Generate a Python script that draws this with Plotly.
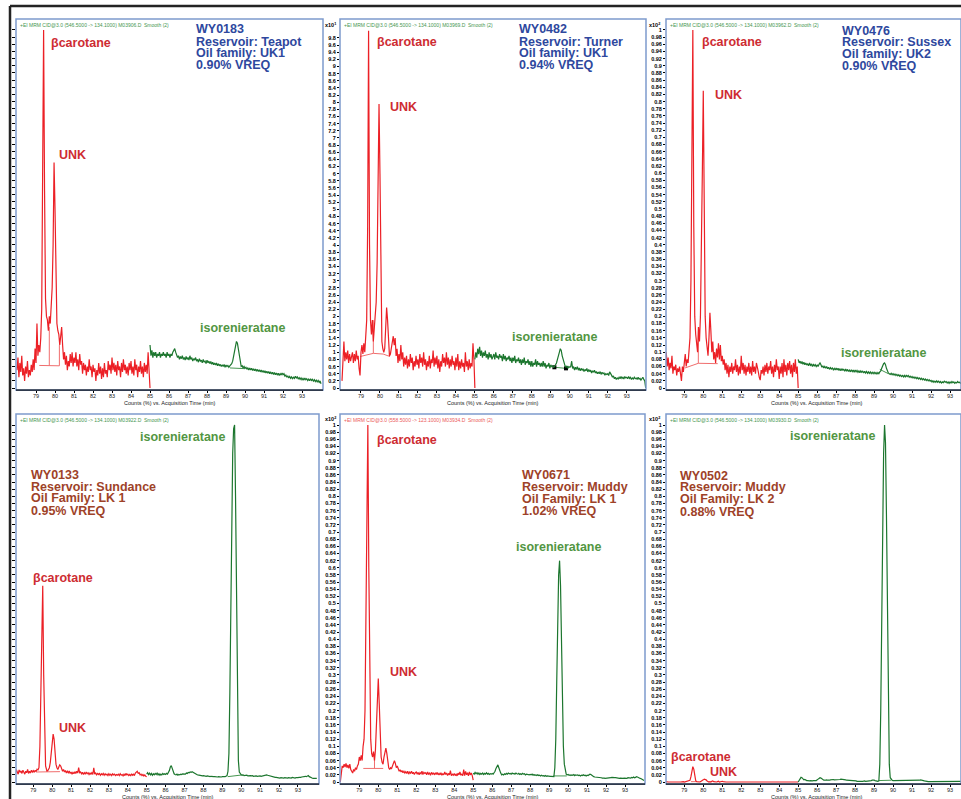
import numpy as np
import plotly.graph_objects as go

W, H = 961, 799
FONT = "Liberation Sans, Arial, sans-serif"

# ---------------- DATA ----------------
# red traces sampled 78.00 .. 85.00 min, green traces 85.00 .. 94.00 min (0.05 min steps)
RED_START, RED_END = 78.0, 85.0
GRN_START, GRN_END = 85.0, 94.0

wy0183_red = [
    0.05, 0.085, 0.03, 0.07, 0.045, 0.09, 0.035, 0.055, 0.02, 0.06,
    0.04, 0.075, 0.03, 0.05, 0.035, 0.065, 0.045, 0.08, 0.05, 0.11,
    0.07, 0.18, 0.09, 0.12, 0.10, 0.14, 0.22, 0.6, 1.0, 0.55,
    0.25, 0.2, 0.19, 0.16, 0.20, 0.18, 0.22, 0.28, 0.4, 0.63,
    0.5, 0.25, 0.18, 0.16, 0.15, 0.12, 0.16, 0.17, 0.12, 0.08,
    0.10, 0.065, 0.09, 0.05, 0.075, 0.06, 0.095, 0.07, 0.10, 0.06,
    0.085, 0.07, 0.10, 0.06, 0.08, 0.05, 0.095, 0.065, 0.075, 0.04,
    0.07, 0.05, 0.065, 0.035, 0.06, 0.045, 0.08, 0.05, 0.06, 0.03,
    0.065, 0.045, 0.055, 0.02, 0.05, 0.035, 0.07, 0.04, 0.06, 0.025,
    0.055, 0.03, 0.07, 0.04, 0.05, 0.03, 0.075, 0.05, 0.065, 0.04,
    0.085, 0.05, 0.07, 0.045, 0.065, 0.035, 0.075, 0.05, 0.06, 0.03,
    0.07, 0.045, 0.08, 0.05, 0.065, 0.04, 0.06, 0.035, 0.07, 0.05,
    0.075, 0.04, 0.06, 0.035, 0.08, 0.05, 0.065, 0.03, 0.06, 0.045,
    0.075, 0.04, 0.06, 0.03, 0.07, 0.045, 0.065, 0.04, 0.10, 0.06,
    0.0]
wy0183_green = [
    0.12, 0.09, 0.105, 0.085, 0.10, 0.09, 0.10, 0.085, 0.095, 0.09,
    0.10, 0.085, 0.095, 0.09, 0.10, 0.09, 0.095, 0.085, 0.10, 0.09,
    0.095, 0.085, 0.095, 0.09, 0.10, 0.105, 0.11, 0.10, 0.09, 0.085,
    0.09, 0.08, 0.088, 0.082, 0.09, 0.08, 0.085, 0.078, 0.088, 0.08,
    0.085, 0.078, 0.09, 0.08, 0.085, 0.075, 0.082, 0.078, 0.085, 0.075,
    0.08, 0.072, 0.082, 0.075, 0.078, 0.07, 0.08, 0.072, 0.075, 0.068,
    0.078, 0.07, 0.075, 0.068, 0.074, 0.066, 0.072, 0.065, 0.07, 0.064,
    0.07, 0.062, 0.068, 0.062, 0.066, 0.06, 0.065, 0.06, 0.066, 0.058,
    0.064, 0.06, 0.063, 0.058, 0.062, 0.064, 0.068, 0.075, 0.09, 0.11,
    0.125, 0.13, 0.125, 0.105, 0.085, 0.07, 0.06, 0.062, 0.056, 0.06,
    0.055, 0.058, 0.052, 0.057, 0.05, 0.056, 0.05, 0.055, 0.049, 0.054,
    0.048, 0.053, 0.047, 0.052, 0.046, 0.051, 0.045, 0.05, 0.044, 0.049,
    0.043, 0.048, 0.042, 0.047, 0.041, 0.046, 0.04, 0.045, 0.039, 0.044,
    0.038, 0.043, 0.037, 0.042, 0.036, 0.041, 0.035, 0.04, 0.036, 0.042,
    0.037, 0.04, 0.033, 0.036, 0.03, 0.034, 0.028, 0.032, 0.027, 0.031,
    0.026, 0.03, 0.027, 0.033, 0.028, 0.031, 0.025, 0.029, 0.024, 0.028,
    0.023, 0.027, 0.022, 0.028, 0.023, 0.026, 0.021, 0.025, 0.02, 0.026,
    0.021, 0.024, 0.019, 0.023, 0.018, 0.022, 0.017, 0.021, 0.016, 0.02,
    0.012]

wy0482_red = [
    0.2, 0.6, 1.3, 0.75, 1.0, 0.8, 1.05, 0.7, 0.95, 0.75,
    0.9, 1.0, 0.7, 0.95, 0.75, 1.05, 0.8, 0.9, 0.55, 0.35,
    1.0, 1.2, 0.95, 1.25, 1.0, 1.35, 1.9, 4.5, 10.0, 4.0,
    1.9, 1.5, 1.9, 1.3, 1.7, 1.9, 2.4, 3.5, 6.0, 7.95,
    6.0, 2.8, 1.3, 1.1, 1.0, 1.1, 1.8, 2.25, 1.9, 1.2,
    0.9, 0.95, 1.1, 1.3, 1.45, 1.2, 1.4, 0.9, 1.1, 0.7,
    0.95, 0.75, 1.2, 0.8, 1.0, 0.6, 0.85, 0.65, 0.9, 0.55,
    0.8, 0.6, 0.95, 0.7, 0.85, 0.5, 0.75, 0.6, 0.9, 0.65,
    0.8, 0.55, 0.95, 0.7, 0.85, 0.6, 1.0, 0.65, 0.8, 0.5,
    0.75, 0.6, 0.9, 0.55, 0.8, 0.7, 1.05, 0.6, 0.85, 0.65,
    0.9, 0.55, 0.8, 0.45, 0.75, 0.6, 0.95, 0.7, 0.85, 0.6,
    1.0, 0.65, 0.85, 0.55, 0.8, 0.6, 0.9, 0.65, 0.75, 0.5,
    0.85, 0.6, 0.95, 0.5, 0.75, 0.55, 0.8, 0.6, 0.7, 0.45,
    1.0, 0.6, 0.75, 0.5, 0.8, 0.55, 0.7, 0.6, 1.25, 0.8,
    0.0]
wy0482_green = [
    0.8, 1.0, 0.85, 1.1, 0.95, 1.15, 0.9, 1.05, 0.85, 1.0,
    0.9, 1.05, 0.85, 0.95, 0.8, 1.0, 0.85, 0.95, 0.8, 0.9,
    0.95, 0.8, 1.0, 0.85, 0.9, 0.8, 0.95, 0.85, 0.9, 0.75,
    0.95, 0.8, 0.9, 0.75, 0.85, 0.8, 0.9, 0.75, 0.85, 0.7,
    0.85, 0.75, 0.9, 0.7, 0.8, 0.75, 0.85, 0.7, 0.8, 0.65,
    0.8, 0.7, 0.85, 0.65, 0.75, 0.7, 0.8, 0.65, 0.75, 0.6,
    0.75, 0.6, 0.7, 0.65, 0.8, 0.6, 0.75, 0.65, 0.7, 0.6,
    0.7, 0.6, 0.75, 0.6, 0.7, 0.55, 0.65, 0.6, 0.7, 0.55,
    0.65, 0.6, 0.62, 0.58, 0.6, 0.65, 0.7, 0.8, 0.95, 1.0,
    1.1, 1.05, 0.9, 0.78, 0.68, 0.62, 0.58, 0.62, 0.55, 0.6,
    0.58, 0.6, 0.75, 0.55, 0.6, 0.5, 0.58, 0.52, 0.6, 0.5,
    0.56, 0.48, 0.55, 0.5, 0.54, 0.46, 0.52, 0.48, 0.55, 0.45,
    0.52, 0.46, 0.5, 0.42, 0.48, 0.44, 0.5, 0.42, 0.46, 0.4,
    0.45, 0.4, 0.46, 0.38, 0.44, 0.4, 0.42, 0.36, 0.4, 0.38,
    0.4, 0.35, 0.45, 0.38, 0.36, 0.3, 0.34, 0.26, 0.3, 0.24,
    0.28, 0.25, 0.3, 0.26, 0.32, 0.27, 0.3, 0.25, 0.32, 0.28,
    0.3, 0.26, 0.32, 0.27, 0.3, 0.24, 0.28, 0.25, 0.3, 0.26,
    0.28, 0.24, 0.3, 0.25, 0.27, 0.22, 0.26, 0.3, 0.24, 0.2,
    0.0]

wy0476_red = [
    0.05, 0.1, 0.06, 0.085, 0.05, 0.07, 0.055, 0.09, 0.04, 0.06,
    0.05, 0.065, 0.035, 0.055, 0.045, 0.06, 0.04, 0.02, 0.06, 0.045,
    0.07, 0.095, 0.06, 0.08, 0.07, 0.1, 0.14, 0.3, 0.6, 1.0,
    0.45, 0.2, 0.15, 0.13, 0.1, 0.17, 0.13, 0.2, 0.35, 0.6,
    0.83, 0.45, 0.2, 0.14, 0.12, 0.09, 0.14, 0.21, 0.16, 0.1,
    0.13, 0.08, 0.1, 0.07, 0.11, 0.085, 0.125, 0.08, 0.12, 0.075,
    0.09, 0.065, 0.08, 0.05, 0.07, 0.04, 0.065, 0.03, 0.06, 0.045,
    0.07, 0.04, 0.06, 0.05, 0.08, 0.045, 0.065, 0.035, 0.06, 0.04,
    0.09, 0.05, 0.07, 0.04, 0.065, 0.035, 0.06, 0.045, 0.07, 0.04,
    0.06, 0.035, 0.075, 0.045, 0.06, 0.04, 0.07, 0.05, 0.045, 0.03,
    0.022, 0.05, 0.04, 0.06, 0.035, 0.065, 0.045, 0.07, 0.04, 0.06,
    0.05, 0.075, 0.04, 0.06, 0.03, 0.065, 0.045, 0.08, 0.05, 0.06,
    0.025, 0.06, 0.04, 0.07, 0.03, 0.08, 0.045, 0.065, 0.035, 0.07,
    0.05, 0.075, 0.04, 0.065, 0.03, 0.07, 0.045, 0.08, 0.04, 0.06,
    0.0]
wy0476_green = [
    0.08, 0.07, 0.075, 0.068, 0.074, 0.066, 0.072, 0.065, 0.07, 0.064,
    0.068, 0.062, 0.07, 0.063, 0.066, 0.06, 0.067, 0.061, 0.065, 0.06,
    0.064, 0.06, 0.066, 0.07, 0.065, 0.058, 0.062, 0.056, 0.06, 0.055,
    0.06, 0.054, 0.058, 0.052, 0.057, 0.053, 0.056, 0.051, 0.055, 0.05,
    0.056, 0.05, 0.055, 0.049, 0.053, 0.048, 0.054, 0.05, 0.052, 0.047,
    0.053, 0.047, 0.052, 0.046, 0.05, 0.045, 0.051, 0.046, 0.05, 0.044,
    0.05, 0.045, 0.049, 0.044, 0.048, 0.043, 0.048, 0.044, 0.047, 0.042,
    0.047, 0.042, 0.046, 0.041, 0.045, 0.041, 0.045, 0.04, 0.044, 0.04,
    0.044, 0.04, 0.043, 0.039, 0.043, 0.04, 0.045, 0.048, 0.055, 0.063,
    0.068, 0.07, 0.065, 0.055, 0.046, 0.042, 0.04, 0.038, 0.041, 0.037,
    0.04, 0.036, 0.039, 0.035, 0.038, 0.034, 0.037, 0.033, 0.036, 0.032,
    0.035, 0.031, 0.035, 0.03, 0.036, 0.032, 0.035, 0.03, 0.033, 0.029,
    0.032, 0.028, 0.031, 0.027, 0.03, 0.026, 0.029, 0.025, 0.028, 0.024,
    0.027, 0.023, 0.026, 0.022, 0.025, 0.021, 0.024, 0.02, 0.023, 0.019,
    0.021, 0.017, 0.02, 0.016, 0.019, 0.016, 0.02, 0.016, 0.019, 0.015,
    0.018, 0.014, 0.017, 0.015, 0.019, 0.016, 0.018, 0.014, 0.017, 0.013,
    0.017, 0.014, 0.018, 0.015, 0.017, 0.013, 0.016, 0.014, 0.018, 0.015,
    0.016, 0.013, 0.017, 0.014, 0.016, 0.013, 0.015, 0.012, 0.014, 0.012,
    0.012]

wy0133_red = [
    0.03, 0.025, 0.035, 0.028, 0.022, 0.034, 0.027, 0.031, 0.024, 0.033,
    0.028, 0.022, 0.03, 0.026, 0.035, 0.024, 0.03, 0.025, 0.033, 0.028,
    0.032, 0.027, 0.033, 0.029, 0.036, 0.034, 0.04, 0.1, 0.25, 0.45,
    0.55, 0.3, 0.1, 0.045, 0.035, 0.03, 0.035, 0.04, 0.055, 0.08,
    0.11, 0.134, 0.12, 0.08, 0.05, 0.04, 0.035, 0.042, 0.048, 0.045,
    0.035, 0.03, 0.035, 0.028, 0.032, 0.025, 0.03, 0.026, 0.031, 0.024,
    0.028, 0.022, 0.027, 0.023, 0.029, 0.024, 0.03, 0.025, 0.04, 0.026,
    0.028, 0.023, 0.027, 0.021, 0.026, 0.022, 0.028, 0.023, 0.026, 0.021,
    0.025, 0.022, 0.026, 0.021, 0.04, 0.022, 0.025, 0.02, 0.024, 0.021,
    0.024, 0.019, 0.023, 0.02, 0.024, 0.019, 0.023, 0.02, 0.022, 0.018,
    0.023, 0.019, 0.022, 0.018, 0.023, 0.02, 0.022, 0.018, 0.021, 0.019,
    0.022, 0.018, 0.023, 0.019, 0.021, 0.017, 0.022, 0.018, 0.024, 0.02,
    0.022, 0.018, 0.021, 0.017, 0.023, 0.019, 0.022, 0.018, 0.025, 0.028,
    0.03, 0.024, 0.026, 0.02, 0.022, 0.018, 0.021, 0.017, 0.02, 0.016,
    0.015]
wy0133_green = [
    0.022, 0.026, 0.021, 0.025, 0.02, 0.024, 0.019, 0.023, 0.02, 0.024,
    0.021, 0.025, 0.02, 0.023, 0.019, 0.022, 0.02, 0.024, 0.021, 0.023,
    0.021, 0.024, 0.022, 0.026, 0.032, 0.042, 0.046, 0.038, 0.028, 0.023,
    0.021, 0.02, 0.022, 0.019, 0.021, 0.02, 0.022, 0.021, 0.023, 0.022,
    0.023, 0.022, 0.025, 0.024, 0.027, 0.026, 0.028, 0.027, 0.029, 0.027,
    0.026, 0.024, 0.023, 0.021, 0.02, 0.019, 0.019, 0.018, 0.018, 0.017,
    0.018, 0.017, 0.017, 0.016, 0.017, 0.016, 0.016, 0.015, 0.016, 0.015,
    0.016, 0.015, 0.015, 0.014, 0.015, 0.014, 0.015, 0.014, 0.015, 0.014,
    0.015, 0.014, 0.015, 0.015, 0.016, 0.018, 0.03, 0.08, 0.25, 0.5,
    0.75, 0.92, 0.99, 1.0, 0.8, 0.5, 0.2, 0.06, 0.028, 0.022,
    0.02, 0.019, 0.02, 0.018, 0.019, 0.018, 0.019, 0.017, 0.018, 0.017,
    0.018, 0.017, 0.018, 0.016, 0.017, 0.016, 0.017, 0.016, 0.017, 0.016,
    0.017, 0.016, 0.017, 0.016, 0.017, 0.018, 0.019, 0.02, 0.019, 0.018,
    0.018, 0.017, 0.016, 0.015, 0.015, 0.014, 0.013, 0.013, 0.012, 0.012,
    0.012, 0.011, 0.012, 0.011, 0.012, 0.011, 0.012, 0.011, 0.012, 0.011,
    0.012, 0.011, 0.012, 0.011, 0.013, 0.012, 0.012, 0.011, 0.012, 0.011,
    0.012, 0.013, 0.012, 0.013, 0.014, 0.015, 0.016, 0.017, 0.016, 0.015,
    0.017, 0.018, 0.015, 0.013, 0.012, 0.011, 0.01, 0.011, 0.01, 0.01,
    0.01]

wy0671_red = [
    0.0, 0.03, 0.045, 0.04, 0.05, 0.042, 0.052, 0.04, 0.048, 0.038,
    0.05, 0.035, 0.03, 0.025, 0.035, 0.03, 0.04, 0.035, 0.045, 0.05,
    0.07, 0.06, 0.075, 0.06, 0.1, 0.12, 0.2, 0.5, 0.85, 1.0,
    0.6, 0.25, 0.12, 0.08, 0.07, 0.085, 0.06, 0.09, 0.15, 0.25,
    0.29, 0.22, 0.12, 0.07, 0.055, 0.05, 0.07, 0.09, 0.095, 0.08,
    0.055, 0.04, 0.035, 0.04, 0.038, 0.045, 0.05, 0.06, 0.052, 0.04,
    0.045, 0.035, 0.03, 0.034, 0.028, 0.032, 0.026, 0.03, 0.025, 0.029,
    0.024, 0.03, 0.022, 0.028, 0.025, 0.03, 0.023, 0.027, 0.021, 0.026,
    0.028, 0.022, 0.027, 0.02, 0.026, 0.023, 0.03, 0.021, 0.027, 0.024,
    0.026, 0.02, 0.028, 0.022, 0.025, 0.019, 0.027, 0.022, 0.026, 0.02,
    0.025, 0.021, 0.027, 0.02, 0.024, 0.02, 0.026, 0.019, 0.023, 0.02,
    0.028, 0.021, 0.025, 0.018, 0.024, 0.02, 0.032, 0.018, 0.022, 0.019,
    0.024, 0.018, 0.022, 0.017, 0.025, 0.02, 0.028, 0.019, 0.022, 0.018,
    0.035, 0.018, 0.03, 0.02, 0.026, 0.017, 0.028, 0.02, 0.025, 0.018,
    0.005]
wy0671_green = [
    0.025, 0.022, 0.027, 0.023, 0.026, 0.022, 0.025, 0.021, 0.024, 0.022,
    0.025, 0.021, 0.024, 0.022, 0.026, 0.022, 0.024, 0.021, 0.023, 0.022,
    0.024, 0.022, 0.026, 0.03, 0.038, 0.045, 0.048, 0.04, 0.03, 0.025,
    0.02, 0.022, 0.02, 0.023, 0.021, 0.024, 0.022, 0.025, 0.023, 0.024,
    0.022, 0.025, 0.023, 0.024, 0.022, 0.025, 0.023, 0.022, 0.024, 0.021,
    0.023, 0.021, 0.024, 0.022, 0.023, 0.02, 0.022, 0.021, 0.022, 0.02,
    0.021, 0.02, 0.022, 0.019, 0.021, 0.019, 0.02, 0.018, 0.02, 0.018,
    0.019, 0.017, 0.019, 0.017, 0.018, 0.016, 0.018, 0.016, 0.017, 0.016,
    0.017, 0.016, 0.016, 0.015, 0.015, 0.015, 0.04, 0.12, 0.28, 0.45,
    0.58, 0.62, 0.55, 0.4, 0.24, 0.1, 0.05, 0.03, 0.022, 0.02,
    0.021, 0.019, 0.02, 0.018, 0.02, 0.019, 0.021, 0.018, 0.02, 0.019,
    0.02, 0.018, 0.019, 0.017, 0.019, 0.018, 0.02, 0.018, 0.019, 0.017,
    0.019, 0.018, 0.02, 0.022, 0.021, 0.018, 0.016, 0.015, 0.014, 0.014,
    0.013, 0.014, 0.013, 0.012, 0.013, 0.012, 0.011, 0.012, 0.011, 0.01,
    0.01, 0.011, 0.01, 0.012, 0.011, 0.012, 0.013, 0.012, 0.013, 0.012,
    0.012, 0.011, 0.012, 0.011, 0.01, 0.011, 0.01, 0.011, 0.01, 0.011,
    0.01, 0.011, 0.01, 0.012, 0.011, 0.012, 0.011, 0.013, 0.012, 0.014,
    0.012, 0.013, 0.015, 0.014, 0.012, 0.011, 0.01, 0.009, 0.008, 0.007,
    0.004]

wy0502_red = [
    0.001, 0.0, 0.001, 0.0, 0.0, 0.001, 0.0, 0.0, 0.001, 0.0,
    0.0, 0.001, 0.0, 0.0, 0.001, 0.0, 0.0, 0.001, 0.0, 0.001,
    0.0, 0.001, 0.0, 0.001, 0.002, 0.003, 0.005, 0.015, 0.032, 0.043,
    0.036, 0.015, 0.004, 0.001, 0.0, 0.001, 0.0, 0.001, 0.002, 0.004,
    0.006, 0.008, 0.008, 0.006, 0.003, 0.001, 0.0, 0.001, 0.0, 0.002,
    0.003, 0.001, 0.0, 0.001, 0.0, 0.001, 0.002, 0.0, 0.001, 0.0,
    0.002, 0.001, 0.0, 0.001, 0.0, 0.0, 0.001, 0.0, 0.0, 0.001,
    0.0, 0.0, 0.001, 0.0, 0.0, 0.0, 0.001, 0.0, 0.0, 0.0,
    0.0, 0.001, 0.0, 0.0, 0.0, 0.001, 0.0, 0.0, 0.0, 0.0,
    0.0, 0.0, 0.001, 0.0, 0.0, 0.0, 0.0, 0.001, 0.0, 0.0,
    0.0, 0.0, 0.0, 0.001, 0.0, 0.0, 0.0, 0.0, 0.0, 0.001,
    0.0, 0.0, 0.0, 0.0, 0.001, 0.0, 0.0, 0.0, 0.0, 0.0,
    0.001, 0.0, 0.0, 0.0, 0.0, 0.0, 0.001, 0.0, 0.0, 0.0,
    0.0, 0.0, 0.001, 0.0, 0.0, 0.0, 0.0, 0.0, 0.001, 0.0,
    0.0]
wy0502_green = [
    0.0, 0.004, 0.01, 0.013, 0.012, 0.008, 0.006, 0.007, 0.005, 0.004,
    0.004, 0.003, 0.003, 0.004, 0.003, 0.003, 0.004, 0.003, 0.004, 0.004,
    0.005, 0.008, 0.01, 0.012, 0.011, 0.008, 0.006, 0.005, 0.005, 0.006,
    0.006, 0.005, 0.004, 0.005, 0.006, 0.007, 0.008, 0.007, 0.006, 0.006,
    0.007, 0.006, 0.005, 0.006, 0.007, 0.008, 0.008, 0.007, 0.007, 0.006,
    0.006, 0.005, 0.005, 0.004, 0.004, 0.005, 0.004, 0.004, 0.003, 0.003,
    0.003, 0.003, 0.002, 0.003, 0.002, 0.002, 0.003, 0.002, 0.002, 0.003,
    0.003, 0.002, 0.002, 0.002, 0.002, 0.003, 0.003, 0.004, 0.005, 0.006,
    0.005, 0.004, 0.003, 0.002, 0.002, 0.003, 0.05, 0.2, 0.45, 0.72,
    0.92, 1.0, 0.95, 0.75, 0.45, 0.18, 0.05, 0.012, 0.006, 0.005,
    0.004, 0.004, 0.005, 0.004, 0.004, 0.003, 0.004, 0.003, 0.003, 0.004,
    0.004, 0.003, 0.004, 0.003, 0.003, 0.003, 0.004, 0.003, 0.003, 0.003,
    0.003, 0.003, 0.004, 0.003, 0.003, 0.003, 0.004, 0.004, 0.005, 0.006,
    0.006, 0.005, 0.004, 0.003, 0.002, 0.002, 0.001, 0.001, 0.001, 0.001,
    0.001, 0.001, 0.001, 0.001, 0.002, 0.002, 0.002, 0.002, 0.002, 0.002,
    0.002, 0.002, 0.002, 0.002, 0.002, 0.002, 0.003, 0.003, 0.003, 0.003,
    0.003, 0.003, 0.003, 0.003, 0.003, 0.002, 0.002, 0.002, 0.003, 0.003,
    0.003, 0.002, 0.002, 0.002, 0.002, 0.002, 0.002, 0.002, 0.002, 0.002,
    0.002]

# integration baselines (time, value); None breaks the line
wy0183_base_red_t = [79.17, 80.23, None, 79.7, 79.7, None, 80.23, 80.23]
wy0183_base_red_y = [0.063, 0.062, None, 0.063, 0.17, None, 0.062, 0.12]
wy0183_base_grn_t = [89.21, 90.0]
wy0183_base_grn_y = [0.056, 0.054]
wy0482_base_red_t = [78.95, 79.3, 79.65, 80.17, 80.53, None, 79.65, 79.65]
wy0482_base_red_y = [0.88, 0.93, 0.97, 0.95, 0.88, None, 0.97, 1.9]
wy0482_base_grn_t = [89.19, 89.8]
wy0482_base_grn_y = [0.58, 0.55]
wy0476_base_red_t = [79.04, 79.74, 80.76, None, 79.74, 79.74]
wy0476_base_red_y = [0.056, 0.069, 0.068, None, 0.069, 0.17]
wy0476_base_grn_t = [89.3, 89.75]
wy0476_base_grn_y = [0.052, 0.04]
wy0133_base_red_t = [79.14, 80.41, None, 79.7, 79.7]
wy0133_base_red_y = [0.028, 0.029, None, 0.028, 0.035]
wy0133_base_grn_t = [89.29, 90.08]
wy0133_base_grn_y = [0.015, 0.02]
wy0671_base_red_t = [79.21, 80.26, None, 79.8, 79.8]
wy0671_base_red_y = [0.038, 0.038, None, 0.038, 0.06]
wy0671_base_grn_t = [89.22, 89.93]
wy0671_base_grn_y = [0.017, 0.017]
wy0502_base_red_t = [79.35, 79.62]
wy0502_base_red_y = [0.001, 0.001]
wy0502_base_grn_t = [89.25, 89.9]
wy0502_base_grn_y = [0.004, 0.005]

x_tick_vals = [79, 80, 81, 82, 83, 84, 85, 86, 87, 88, 89, 90, 91, 92, 93]
x_tick_text = ["79", "80", "81", "82", "83", "84", "85", "86", "87", "88", "89", "90", "91", "92", "93"]
y_ticks_x10_2 = [0, 0.02, 0.04, 0.06, 0.08, 0.1, 0.12, 0.14, 0.16, 0.18, 0.2, 0.22, 0.24, 0.26,
                 0.28, 0.3, 0.32, 0.34, 0.36, 0.38, 0.4, 0.42, 0.44, 0.46, 0.48, 0.5, 0.52, 0.54,
                 0.56, 0.58, 0.6, 0.62, 0.64, 0.66, 0.68, 0.7, 0.72, 0.74, 0.76, 0.78, 0.8, 0.82,
                 0.84, 0.86, 0.88, 0.9, 0.92, 0.94, 0.96, 0.98, 1]
y_ticks_x10_1 = [0, 0.2, 0.4, 0.6, 0.8, 1, 1.2, 1.4, 1.6, 1.8, 2, 2.2, 2.4, 2.6, 2.8, 3, 3.2, 3.4,
                 3.6, 3.8, 4, 4.2, 4.4, 4.6, 4.8, 5, 5.2, 5.4, 5.6, 5.8, 6, 6.2, 6.4, 6.6, 6.8, 7,
                 7.2, 7.4, 7.6, 7.8, 8, 8.2, 8.4, 8.6, 8.8, 9, 9.2, 9.4, 9.6, 9.8]

samples = ["WY0183", "WY0482", "WY0476", "WY0133", "WY0671", "WY0502"]
info_lines = {
    "WY0183": ["WY0183", "Reservoir: Teapot", "Oil family: UK1", "0.90% VREQ"],
    "WY0482": ["WY0482", "Reservoir: Turner", "Oil family: UK1", "0.94% VREQ"],
    "WY0476": ["WY0476", "Reservoir: Sussex", "Oil family: UK2", "0.90% VREQ"],
    "WY0133": ["WY0133", "Reservoir: Sundance", "Oil Family: LK 1", "0.95% VREQ"],
    "WY0671": ["WY0671", "Reservoir: Muddy", "Oil Family: LK 1", "1.02% VREQ"],
    "WY0502": ["WY0502", "Reservoir: Muddy", "Oil Family: LK 2", "0.88% VREQ"],
}
headers = {
    "WY0183": "+EI MRM CID@3.0 (546.5000 -&gt; 134.1000) M03906.D  Smooth (2)",
    "WY0482": "+EI MRM CID@3.0 (546.5000 -&gt; 134.1000) M03969.D  Smooth (2)",
    "WY0476": "+EI MRM CID@3.0 (546.5000 -&gt; 134.1000) M03962.D  Smooth (2)",
    "WY0133": "+EI MRM CID@3.0 (546.5000 -&gt; 134.1000) M03922.D  Smooth (2)",
    "WY0671": "+EI MRM CID@3.0 (558.5000 -&gt; 123.1000) M03934.D  Smooth (2)",
    "WY0502": "+EI MRM CID@3.0 (546.5000 -&gt; 134.1000) M03930.D  Smooth (2)",
}
red_data = {"WY0183": wy0183_red, "WY0482": wy0482_red, "WY0476": wy0476_red,
            "WY0133": wy0133_red, "WY0671": wy0671_red, "WY0502": wy0502_red}
grn_data = {"WY0183": wy0183_green, "WY0482": wy0482_green, "WY0476": wy0476_green,
            "WY0133": wy0133_green, "WY0671": wy0671_green, "WY0502": wy0502_green}
base_data = {
    "WY0183": (wy0183_base_red_t, wy0183_base_red_y, wy0183_base_grn_t, wy0183_base_grn_y),
    "WY0482": (wy0482_base_red_t, wy0482_base_red_y, wy0482_base_grn_t, wy0482_base_grn_y),
    "WY0476": (wy0476_base_red_t, wy0476_base_red_y, wy0476_base_grn_t, wy0476_base_grn_y),
    "WY0133": (wy0133_base_red_t, wy0133_base_red_y, wy0133_base_grn_t, wy0133_base_grn_y),
    "WY0671": (wy0671_base_red_t, wy0671_base_red_y, wy0671_base_grn_t, wy0671_base_grn_y),
    "WY0502": (wy0502_base_red_t, wy0502_base_red_y, wy0502_base_grn_t, wy0502_base_grn_y),
}

# ---------------- LAYOUT (pixel geometry) ----------------
panels = [
    dict(box=(16, 19, 323, 390), xr=(77.947, 94.105), yr=(-0.0056, 1.0307), ylab=None,
         info=(194, [29.3, 41.7, 53.3, 65.0]), icolor="rgb(46,72,158)",
         labels=[("βcarotane", 49, 43.3, "red"), ("UNK", 57, 155.3, "red"), ("isorenieratane", 198, 328.3, "green")],
         hcolor="rgb(70,150,80)", mult=None, xtc=169.5),
    dict(box=(340, 19, 646, 390), xr=(77.894, 94.016), yr=(-0.056, 10.33), ylab=y_ticks_x10_1,
         info=(516.7, [29.3, 41.7, 53.3, 64.6]), icolor="rgb(46,72,158)",
         labels=[("βcarotane", 375, 42, "red"), ("UNK", 387.7, 107.3, "red"), ("isorenieratane", 510, 336.7, "green")],
         hcolor="rgb(70,150,80)", mult=("1", 323, 25), xtc=493),
    dict(box=(666, 19, 961, 390), xr=(78.036, 93.578), yr=(-0.0056, 1.0307), ylab=y_ticks_x10_2,
         info=(840, [30.7, 42.3, 54.0, 65.7]), icolor="rgb(46,72,158)",
         labels=[("βcarotane", 700, 41.7, "red"), ("UNK", 712.7, 95, "red"), ("isorenieratane", 839, 353.3, "green")],
         hcolor="rgb(70,150,80)", mult=("2", 647, 25), xtc=817),
    dict(box=(16, 414, 319, 784), xr=(78.085, 94.116), yr=(-0.0056, 1.0308), ylab=None,
         info=(29, [475, 486.7, 498.3, 511]), icolor="rgb(158,66,40)",
         labels=[("isorenieratane", 137.7, 436.7, "green"), ("βcarotane", 30.7, 577.7, "red"), ("UNK", 56.7, 728.3, "red")],
         hcolor="rgb(70,150,80)", mult=None, xtc=167.5),
    dict(box=(340, 414, 645, 784), xr=(77.983, 94.05), yr=(-0.0056, 1.0308), ylab=y_ticks_x10_2,
         info=(520, [475, 486.7, 499, 511]), icolor="rgb(158,66,40)",
         labels=[("βcarotane", 375, 440, "red"), ("isorenieratane", 514.3, 546.7, "green"), ("UNK", 387.7, 671.7, "red")],
         hcolor="rgb(235,90,90)", mult=("2", 323, 419), xtc=492.5),
    dict(box=(666, 414, 961, 784), xr=(78.036, 93.578), yr=(-0.0056, 1.0308), ylab=y_ticks_x10_2,
         info=(678.3, [475.7, 487.3, 499.3, 511.7]), icolor="rgb(158,66,40)",
         labels=[("isorenieratane", 787.7, 435.7, "green"), ("βcarotane", 669.3, 756.7, "red"), ("UNK", 708.3, 772.3, "red")],
         hcolor="rgb(70,150,80)", mult=("2", 647, 419), xtc=817),
]

RED = "rgb(236,32,38)"
GREEN = "rgb(28,118,46)"
RED_BASE = "rgb(240,110,110)"
GREEN_BASE = "rgb(70,150,80)"
LBL_RED = "rgb(206,44,50)"
LBL_GREEN = "rgb(82,150,66)"


def px2x(px):
    return px / W


def py2y(py):
    return 1 - py / H


fig = go.Figure()
annotations = []
shapes = []

for i, (name, p) in enumerate(zip(samples, panels)):
    k = "" if i == 0 else str(i + 1)
    xa, ya = "x" + k, "y" + k
    red = red_data[name]
    grn = grn_data[name]
    t_red = np.linspace(RED_START, RED_END, len(red))
    t_grn = np.linspace(GRN_START, GRN_END, len(grn))
    brt, bry, bgt, bgy = base_data[name]
    fig.add_trace(go.Scatter(x=brt, y=bry, mode="lines", line=dict(color=RED_BASE, width=1),
                             xaxis=xa, yaxis=ya, hoverinfo="skip", connectgaps=False))
    fig.add_trace(go.Scatter(x=bgt, y=bgy, mode="lines", line=dict(color=GREEN_BASE, width=1),
                             xaxis=xa, yaxis=ya, hoverinfo="skip"))
    if name == "WY0482":
        fig.add_trace(go.Scatter(x=bgt, y=bgy, mode="markers",
                                 marker=dict(color="black", size=4, symbol="square"),
                                 xaxis=xa, yaxis=ya, hoverinfo="skip"))
    fig.add_trace(go.Scatter(x=t_red, y=red, mode="lines", line=dict(color=RED, width=1.2),
                             xaxis=xa, yaxis=ya, hoverinfo="skip"))
    fig.add_trace(go.Scatter(x=t_grn, y=grn, mode="lines", line=dict(color=GREEN, width=1.2),
                             xaxis=xa, yaxis=ya, hoverinfo="skip"))

    l, t, r, b = p["box"]
    xdom = [px2x(l), min(px2x(r), 1.0)]
    ydom = [py2y(b), py2y(t)]
    ax_x = dict(domain=xdom, range=list(p["xr"]), anchor=ya, showgrid=False, zeroline=False,
                showline=True, linecolor="black", linewidth=1, ticks="outside", ticklen=2,
                tickcolor="black", tickvals=x_tick_vals, ticktext=x_tick_text,
                ticklabelstandoff=-2,
                tickfont=dict(family=FONT, size=5.5, color="#222"), fixedrange=True)
    if p["ylab"] is None:
        ax_y = dict(domain=ydom, range=list(p["yr"]), anchor=xa, showgrid=False, zeroline=False,
                    showline=False, ticks="outside", ticklen=3, tickcolor="black",
                    tickvals=y_ticks_x10_2, showticklabels=False, fixedrange=True)
    else:
        ax_y = dict(domain=ydom, range=list(p["yr"]), anchor=xa, showgrid=False, zeroline=False,
                    showline=False, ticks="outside", ticklen=2, tickcolor="black",
                    tickvals=p["ylab"], ticktext=[f"{v:g}" for v in p["ylab"]],
                    tickfont=dict(family=FONT, size=5.5, color="black", weight="bold"),
                    fixedrange=True)
    fig.update_layout(**{"xaxis" + k: ax_x, "yaxis" + k: ax_y})

    # light blue panel frame
    shapes.append(dict(type="rect", xref="paper", yref="paper", x0=px2x(l), x1=px2x(r),
                       y0=py2y(b), y1=py2y(t), line=dict(color="rgb(125,155,205)", width=1.5),
                       layer="above"))
    # bottom axis re-drawn black
    shapes.append(dict(type="line", xref="paper", yref="paper", x0=px2x(l), x1=px2x(r),
                       y0=py2y(b), y1=py2y(b), line=dict(color="black", width=1.2), layer="above"))

    # header
    annotations.append(dict(text=headers[name], x=px2x(l + 2), y=py2y(t + 6), xref="paper",
                            yref="paper", xanchor="left", yanchor="middle", showarrow=False,
                            font=dict(family=FONT, size=5, color=p["hcolor"])))
    # x axis title
    annotations.append(dict(text="Counts (%) vs. Acquisition Time (min)", x=px2x(p["xtc"]),
                            y=py2y(b + 12.5), xref="paper", yref="paper", xanchor="center",
                            yanchor="middle", showarrow=False,
                            font=dict(family=FONT, size=5.5, color="#222")))
    # info block
    ix, iys = p["info"]
    for line, yy in zip(info_lines[name], iys):
        annotations.append(dict(text=line, x=px2x(ix), y=py2y(yy), xref="paper", yref="paper",
                                xanchor="left", yanchor="middle", showarrow=False,
                                font=dict(family=FONT, size=12.5, color=p["icolor"], weight="bold")))
    # peak labels
    for txt, lx, ly, c in p["labels"]:
        annotations.append(dict(text=txt, x=px2x(lx), y=py2y(ly), xref="paper", yref="paper",
                                xanchor="left", yanchor="middle", showarrow=False,
                                font=dict(family=FONT, size=12.5,
                                          color=LBL_RED if c == "red" else LBL_GREEN,
                                          weight="bold")))
    # exponent label
    if p["mult"] is not None:
        e, mx, my = p["mult"]
        annotations.append(dict(text="x10<sup>" + e + "</sup>", x=px2x(mx), y=py2y(my),
                                xref="paper", yref="paper", xanchor="left", yanchor="middle",
                                showarrow=False,
                                font=dict(family=FONT, size=5.5, color="black", weight="bold")))

# outer black frame
shapes.append(dict(type="line", xref="paper", yref="paper", x0=px2x(10), x1=1, y0=py2y(6),
                   y1=py2y(6), line=dict(color="rgb(35,35,35)", width=2.5)))
shapes.append(dict(type="line", xref="paper", yref="paper", x0=px2x(10), x1=px2x(10), y0=0,
                   y1=py2y(6), line=dict(color="rgb(35,35,35)", width=2.5)))

fig.update_layout(width=W, height=H, margin=dict(l=0, r=0, t=0, b=0),
                  paper_bgcolor="white", plot_bgcolor="white", showlegend=False,
                  annotations=annotations, shapes=shapes)

fig.write_html("out.html", config={"displayModeBar": False},
               post_script="document.body.style.margin='0';document.body.style.overflow='hidden';")
